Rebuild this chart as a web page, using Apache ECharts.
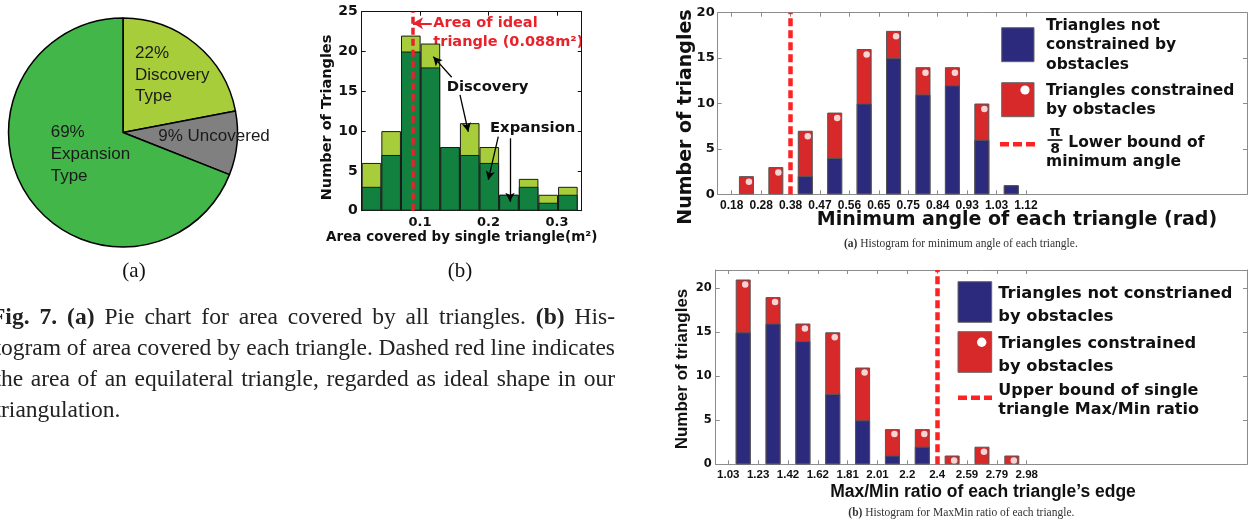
<!DOCTYPE html>
<html>
<head>
<meta charset="utf-8">
<script src="https://cdn.jsdelivr.net/npm/echarts@6/dist/echarts.min.js"></script>
<style>
  html, body { margin: 0; background: #fff; }
  #chart { width: 1248px; height: 523px; }
</style>
</head>
<body>
<div id="chart"></div>
<script>
// (a) pie: share of area covered
const pieNames = ['Discovery Type', 'Uncovered', 'Expansion Type'];
const pieValues = [22, 9, 69];

// (b) histogram of area covered by each triangle
const areaBins = [0.0292, 0.0579, 0.0866, 0.1152, 0.1439, 0.1726, 0.2012, 0.2299, 0.2586, 0.2872, 0.3159];
const areaExpansion = [3, 7, 20, 18, 8, 7, 6, 2, 3, 1, 2];
const areaDiscovery = [3, 3, 2, 3, 0, 4, 2, 0, 1, 1, 1];
const areaTicks = [0.1, 0.2, 0.3];
const idealArea = 0.088;

// minimum angle histogram (bin edges are the tick labels)
const angleTicks = ['0.18', '0.28', '0.38', '0.47', '0.56', '0.65', '0.75', '0.84', '0.93', '1.03', '1.12'];
const angleFree = [0, 0, 2, 4, 10, 15, 11, 12, 6, 1];
const angleConstrained = [2, 3, 5, 5, 6, 3, 3, 2, 4, 0];
const angleBoundTick = 2;

// max/min edge ratio histogram
const ratioTicks = ['1.03', '1.23', '1.42', '1.62', '1.81', '2.01', '2.2', '2.4', '2.59', '2.79', '2.98'];
const ratioFree = [15, 16, 14, 8, 5, 1, 2, 0, 0, 0];
const ratioConstrained = [6, 3, 2, 7, 6, 3, 2, 1, 2, 1];
const ratioBoundTick = 7;

const countTicks = [0, 5, 10, 15, 20];
const tickIdx = angleTicks.map((t, i) => i);

const GRAY = '#8c8c8c';
const NAVY = '#2b2a7d';
const RED = '#d8292a';
const DARK_GREEN = '#12803f';
const LIGHT_GREEN = '#a8cd3a';

const chart = echarts.init(document.getElementById('chart'));

// the lower part of each column is drawn over the full column (barGap -100%),
// which gives the stacked look on a value x axis
const areaTotal = areaExpansion.map((v, i) => v + areaDiscovery[i]);
const angleTotal = angleFree.map((v, i) => v + angleConstrained[i]);
const ratioTotal = ratioFree.map((v, i) => v + ratioConstrained[i]);

function xAxisCfg(grid, min, max, pos, color, labels, tickVals) {
  return {
    gridIndex: grid, type: 'value', min: min, max: max, position: pos,
    axisLine: { show: true, onZero: false, lineStyle: { color: color, width: 1 } },
    axisTick: { show: true, inside: true, length: 4, customValues: tickVals, lineStyle: { color: color } },
    axisLabel: labels ? Object.assign({ customValues: tickVals, color: '#111' }, labels) : { show: false },
    splitLine: { show: false }
  };
}
function yAxisCfg(grid, max, pos, color, labels, tickVals) {
  return {
    gridIndex: grid, type: 'value', min: 0, max: max, position: pos,
    axisLine: { show: true, onZero: false, lineStyle: { color: color, width: 1 } },
    axisTick: { show: true, inside: true, length: 4, customValues: tickVals, lineStyle: { color: color } },
    axisLabel: labels ? Object.assign({ customValues: tickVals, color: '#111' }, labels) : { show: false },
    splitLine: { show: false }
  };
}

const djb = { fontFamily: 'DejaVu Sans', fontWeight: 'bold' };
function txt(x, y, text, style, extra) {
  return Object.assign({
    type: 'text', x: x, y: y, silent: true,
    style: Object.assign({ text: text, fill: '#111', align: 'left', verticalAlign: 'middle' }, style)
  }, extra || {});
}

// justified caption lines, measured with the same fonts zrender uses
const measure = document.createElement('canvas').getContext('2d');
const capSize = 23.5;
function captionLine(line, left, right, y, justify) {
  const words = [];
  let bold = false;
  line.split(' ').forEach(w => {
    let b = bold;
    if (w.startsWith('**')) { w = w.slice(2); b = true; bold = true; }
    if (w.endsWith('**')) { w = w.slice(0, -2); bold = false; }
    words.push({ w: w, b: b });
  });
  let sum = 0;
  words.forEach(o => {
    measure.font = (o.b ? 'bold ' : '') + capSize + 'px "Liberation Serif"';
    sum += measure.measureText(o.w).width;
  });
  measure.font = capSize + 'px "Liberation Serif"';
  const gap = justify ? (right - left - sum) / (words.length - 1) : measure.measureText(' ').width;
  const text = words.map(o => '{' + (o.b ? 'b' : 'r') + '|' + o.w + '}').join('{g| }');
  return txt(left, y, text, {
    rich: {
      r: { fontFamily: 'Liberation Serif', fontSize: capSize, fill: '#222' },
      b: { fontFamily: 'Liberation Serif', fontSize: capSize, fontWeight: 'bold', fill: '#222' },
      g: { fontFamily: 'Liberation Serif', fontSize: capSize, width: gap }
    }
  });
}

const captionLines = [
  '**Fig. 7. (a)** Pie chart for area covered by all triangles. **(b)** His-',
  'togram of area covered by each triangle. Dashed red line indicates',
  'the area of an equilateral triangle, regarded as ideal shape in our',
  'triangulation.'
];

const option = {
  animation: false,
  backgroundColor: '#fff',
  grid: [
    { left: 361.7, top: 11.7, width: 220, height: 199, outerBoundsMode: 'none' },
    { left: 717.7, top: 12.7, width: 529.3, height: 181.6, outerBoundsMode: 'none' },
    { left: 715.7, top: 270, width: 531.3, height: 194.3, outerBoundsMode: 'none' }
  ],
  xAxis: [
    xAxisCfg(0, 0.0149, 0.3361, 'bottom', '#111',
      Object.assign({ margin: 5, fontSize: 13 }, djb), areaTicks),
    xAxisCfg(0, 0.0149, 0.3361, 'top', '#111', null, areaTicks),
    xAxisCfg(1, -0.476, 17.51, 'bottom', GRAY,
      { margin: 5, fontSize: 12, fontFamily: 'Liberation Sans', fontWeight: 'bold',
        formatter: v => angleTicks[Math.round(v)] }, tickIdx),
    xAxisCfg(1, -0.476, 17.51, 'top', GRAY, null, tickIdx),
    xAxisCfg(2, -0.422, 17.38, 'bottom', GRAY,
      { margin: 5, fontSize: 11.5, fontFamily: 'Liberation Sans', fontWeight: 'bold',
        formatter: v => ratioTicks[Math.round(v)] }, tickIdx),
    xAxisCfg(2, -0.422, 17.38, 'top', GRAY, null, tickIdx)
  ],
  yAxis: [
    yAxisCfg(0, 25, 'left', '#111', Object.assign({ margin: 4, fontSize: 14 }, djb), [0, 5, 10, 15, 20, 25]),
    yAxisCfg(0, 25, 'right', '#111', null, [0, 5, 10, 15, 20, 25]),
    yAxisCfg(1, 20, 'left', GRAY, Object.assign({ margin: 3, fontSize: 13 }, djb), countTicks),
    yAxisCfg(1, 20, 'right', GRAY, null, countTicks),
    yAxisCfg(2, 22.08, 'left', GRAY, Object.assign({ margin: 4, fontSize: 11.5 }, djb), countTicks),
    yAxisCfg(2, 22.08, 'right', GRAY, null, countTicks)
  ],
  series: [
    {
      type: 'bar', name: 'Discovery', xAxisIndex: 0, yAxisIndex: 0, barWidth: 19.6, barGap: '-100%',
      data: areaBins.map((x, i) => [x, areaTotal[i]]),
      itemStyle: { color: LIGHT_GREEN, borderColor: '#1b1b1b', borderWidth: 1 },
      silent: true,
      markLine: {
        silent: true, symbol: 'none', label: { show: false },
        data: [
          { xAxis: idealArea, lineStyle: { color: '#e8222b', width: 3.5, type: [7, 4] } },
          [{ coord: [0.1171, 23.54], symbol: 'none' },
           { coord: [0.0898, 23.54], symbol: 'arrow', symbolSize: [9, 10],
             lineStyle: { color: '#e8222b', width: 2, type: 'solid' } }]
        ]
      }
    },
    {
      type: 'bar', name: 'Expansion', xAxisIndex: 0, yAxisIndex: 0, barWidth: 19.6, barGap: '-100%',
      data: areaBins.map((x, i) => [x, areaExpansion[i]]),
      itemStyle: { color: DARK_GREEN, borderColor: '#1b1b1b', borderWidth: 1 },
      silent: true,
      markLine: {
        silent: true, symbol: ['none', 'arrow'], symbolSize: [7, 9],
        label: { show: false },
        lineStyle: { color: '#000', width: 1.3, type: 'solid' },
        data: [
          [{ coord: [0.1463, 16.76] }, { coord: [0.1194, 19.35] }],
          [{ coord: [0.1584, 14.54] }, { coord: [0.1705, 9.92] }],
          [{ coord: [0.2143, 9.3] }, { coord: [0.1997, 3.86] }],
          [{ coord: [0.2314, 9.1] }, { coord: [0.2314, 1.13] }]
        ]
      }
    },
    {
      type: 'bar', name: 'Triangles constrained by obstacles', xAxisIndex: 2, yAxisIndex: 2,
      barWidth: 15, barGap: '-100%', silent: true,
      data: angleTotal.map((v, i) => [i + 0.5, v]),
      itemStyle: { color: RED, borderColor: '#555', borderWidth: 1 },
      markLine: {
        silent: true, symbol: 'none', label: { show: false },
        lineStyle: { color: '#ff2222', width: 4.5, type: [8, 4] },
        data: [{ xAxis: angleBoundTick }]
      }
    },
    {
      type: 'bar', name: 'Triangles not constrained by obstacles', xAxisIndex: 2, yAxisIndex: 2,
      barWidth: 15, barGap: '-100%', silent: true,
      data: angleFree.map((v, i) => [i + 0.5, v > 0 ? v : null]),
      itemStyle: { color: NAVY, borderColor: '#555', borderWidth: 1 }
    },
    {
      type: 'scatter', xAxisIndex: 2, yAxisIndex: 2, silent: true, z: 5,
      symbolSize: 6.5, symbolOffset: [2.5, 5.5], itemStyle: { color: '#fff' },
      data: angleConstrained.map((c, i) => c > 0 ? [i + 0.5, angleTotal[i]] : null).filter(Boolean)
    },
    {
      type: 'bar', name: 'Triangles constrained by obstacles', xAxisIndex: 4, yAxisIndex: 4,
      barWidth: 15, barGap: '-100%', silent: true,
      data: ratioTotal.map((v, i) => [i + 0.5, v]),
      itemStyle: { color: RED, borderColor: '#555', borderWidth: 1 },
      markLine: {
        silent: true, symbol: 'none', label: { show: false },
        lineStyle: { color: '#ff2222', width: 4.5, type: [8, 4] },
        data: [{ xAxis: ratioBoundTick }]
      }
    },
    {
      type: 'bar', name: 'Triangles not constrianed by obstacles', xAxisIndex: 4, yAxisIndex: 4,
      barWidth: 15, barGap: '-100%', silent: true,
      data: ratioFree.map((v, i) => [i + 0.5, v > 0 ? v : null]),
      itemStyle: { color: NAVY, borderColor: '#555', borderWidth: 1 }
    },
    {
      type: 'scatter', xAxisIndex: 4, yAxisIndex: 4, silent: true, z: 5,
      symbolSize: 6.5, symbolOffset: [2, 5], itemStyle: { color: '#fff' },
      data: ratioConstrained.map((c, i) => c > 0 ? [i + 0.5, ratioTotal[i]] : null).filter(Boolean)
    },
    {
      type: 'pie', center: [123, 132.5], radius: 114.5, startAngle: 90, clockwise: true, silent: true,
      color: [LIGHT_GREEN, '#808080', '#42b649'],
      data: pieNames.map((n, i) => ({ name: n, value: pieValues[i] })),
      itemStyle: { borderColor: '#000', borderWidth: 1.5 },
      label: {
        position: 'inside', color: '#1a1a1a', fontFamily: 'Liberation Sans', fontSize: 17, lineHeight: 21.7,
        formatter: p => p.name.indexOf(' ') > 0
          ? p.value + '%\n' + p.name.replace(' ', '\n')
          : p.value + '% ' + p.name
      },
      labelLine: { show: false },
      labelLayout: p => {
        const spots = [[135, 75], [158.3, 136.7], [50.7, 154.3]];
        return { x: spots[p.dataIndex][0], y: spots[p.dataIndex][1], align: 'left', verticalAlign: 'middle' };
      }
    }
  ],
  graphic: [
    // panel labels
    txt(134, 271, '(a)', { fontFamily: 'Liberation Serif', fontSize: 21, align: 'center' }),
    txt(460, 271, '(b)', { fontFamily: 'Liberation Serif', fontSize: 21, align: 'center' }),

    // (b) histogram texts
    txt(327.5, 117.5, 'Number of Triangles', Object.assign({ fontSize: 14.5, align: 'center' }, djb),
      { rotation: Math.PI / 2 }),
    txt(461.7, 237.3, 'Area covered by single triangle(m²)', Object.assign({ fontSize: 13.5, align: 'center' }, djb)),
    txt(433.3, 23.3, 'Area of ideal', Object.assign({ fontSize: 14.5, fill: '#e8222b' }, djb)),
    txt(433.3, 42.3, 'triangle (0.088m²)', Object.assign({ fontSize: 14.5, fill: '#e8222b' }, djb)),
    txt(446.7, 87.3, 'Discovery', Object.assign({ fontSize: 14.8 }, djb)),
    txt(490, 127.7, 'Expansion', Object.assign({ fontSize: 14.8 }, djb)),

    // minimum angle chart texts
    txt(686, 117, 'Number of triangles', Object.assign({ fontSize: 19, align: 'center' }, djb),
      { rotation: Math.PI / 2 }),
    txt(1017, 220, 'Minimum angle of each triangle (rad)', Object.assign({ fontSize: 19, align: 'center' }, djb)),
    txt(844, 244, '{b|(a)} Histogram for minimum angle of each triangle.', {
      fontFamily: 'Liberation Serif', fontSize: 11.5, fill: '#333',
      rich: { b: { fontFamily: 'Liberation Serif', fontSize: 11.5, fontWeight: 'bold', fill: '#333' } }
    }),
    { type: 'rect', silent: true, shape: { x: 1001.7, y: 27.7, width: 32.3, height: 34 },
      style: { fill: NAVY, stroke: '#666', lineWidth: 1 } },
    { type: 'rect', silent: true, shape: { x: 1001.7, y: 82.7, width: 32.3, height: 34 },
      style: { fill: RED, stroke: '#666', lineWidth: 1 } },
    { type: 'circle', silent: true, shape: { cx: 1025, cy: 90, r: 4.6 }, style: { fill: '#fff' } },
    { type: 'line', silent: true, shape: { x1: 1000, y1: 144.3, x2: 1035, y2: 144.3 },
      style: { stroke: '#ff2222', lineWidth: 4.5, lineDash: [9, 4] } },
    txt(1046, 45.4, 'Triangles not\nconstrained by\nobstacles', Object.assign({ fontSize: 15.5, lineHeight: 19.7 }, djb)),
    txt(1046, 100.5, 'Triangles constrained\nby obstacles', Object.assign({ fontSize: 15.5, lineHeight: 19.5 }, djb)),
    txt(1055, 132.5, 'π', Object.assign({ fontSize: 14, align: 'center' }, djb)),
    { type: 'line', silent: true, shape: { x1: 1047.5, y1: 140, x2: 1062.5, y2: 140 },
      style: { stroke: '#111', lineWidth: 1.6 } },
    txt(1055, 149.5, '8', Object.assign({ fontSize: 14, align: 'center' }, djb)),
    txt(1068.3, 142.7, 'Lower bound of', Object.assign({ fontSize: 15.5 }, djb)),
    txt(1046, 162.3, 'minimum angle', Object.assign({ fontSize: 15.5 }, djb)),

    // max/min ratio chart texts
    txt(682.5, 369, 'Number of triangles', { fontFamily: 'Liberation Sans', fontWeight: 'bold', fontSize: 17, align: 'center' },
      { rotation: Math.PI / 2 }),
    txt(983, 491.7, 'Max/Min ratio of each triangle’s edge',
      { fontFamily: 'Liberation Sans', fontWeight: 'bold', fontSize: 17.5, align: 'center' }),
    txt(848.3, 513.3, '{b|(b)} Histogram for MaxMin ratio of each triangle.', {
      fontFamily: 'Liberation Serif', fontSize: 11.5, fill: '#333',
      rich: { b: { fontFamily: 'Liberation Serif', fontSize: 11.5, fontWeight: 'bold', fill: '#333' } }
    }),
    { type: 'rect', silent: true, shape: { x: 958, y: 281.7, width: 33.7, height: 40.6 },
      style: { fill: NAVY, stroke: '#666', lineWidth: 1 } },
    { type: 'rect', silent: true, shape: { x: 958, y: 331.7, width: 33.7, height: 40.6 },
      style: { fill: RED, stroke: '#666', lineWidth: 1 } },
    { type: 'circle', silent: true, shape: { cx: 981.7, cy: 342.3, r: 4.7 }, style: { fill: '#fff' } },
    { type: 'line', silent: true, shape: { x1: 958, y1: 397.7, x2: 992, y2: 397.7 },
      style: { stroke: '#ff2222', lineWidth: 4.5, lineDash: [9, 4] } },
    txt(998.3, 305, 'Triangles not constrianed\nby obstacles', Object.assign({ fontSize: 16.3, lineHeight: 23.4 }, djb)),
    txt(998.3, 355.3, 'Triangles constrained\nby obstacles', Object.assign({ fontSize: 16.3, lineHeight: 22.7 }, djb)),
    txt(998.3, 400.3, 'Upper bound of single\ntriangle Max/Min ratio', Object.assign({ fontSize: 16, lineHeight: 19.3 }, djb)),

    // figure caption on the left
    captionLine(captionLines[0], -9, 615, 318, true),
    captionLine(captionLines[1], -5.5, 615, 349, true),
    captionLine(captionLines[2], -5.5, 615, 380, true),
    captionLine(captionLines[3], -5.5, 615, 411, false)
  ]
};

chart.setOption(option);
</script>
</body>
</html>
